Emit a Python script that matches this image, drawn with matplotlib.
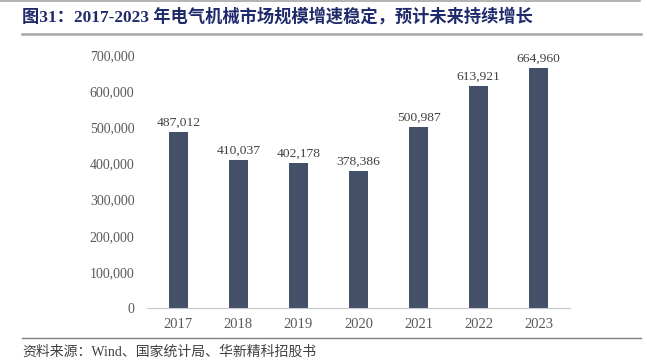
import matplotlib.pyplot as plt
from matplotlib.lines import Line2D

# 2017-2023 电气机械市场规模
years = ['2017', '2018', '2019', '2020', '2021', '2022', '2023']
values = [487012, 410037, 402178, 378386, 500987, 613921, 664960]

serif = ['Liberation Serif', 'Noto Sans CJK SC']

fig = plt.figure(figsize=(6.47, 3.61), dpi=100)
ax = fig.add_axes([147 / 647, 1 - 308 / 361, 423 / 647, 253 / 361])

x = range(len(years))
ax.bar(x, values, width=0.32, color='#435068', zorder=2)
for i, v in zip(x, values):
    ax.text(i, v + 9000, f'{v:,}', ha='center', va='bottom', fontsize=9.7,
            family=serif, color='#404040')

ax.set_ylim(0, 700000)
ax.set_xlim(-0.52, 6.52)
ax.set_yticks(range(0, 700001, 100000))
ax.set_yticklabels([f'{t:,}' for t in range(0, 700001, 100000)], family=serif,
                   fontsize=10, color='#595959')
ax.set_xticks(list(x))
ax.set_xticklabels(years, family=serif, fontsize=10.5, color='#595959')
ax.tick_params(axis='y', length=0, pad=9)
ax.tick_params(axis='x', length=0, pad=7)
for s in ['top', 'right', 'left']:
    ax.spines[s].set_visible(False)
ax.spines['bottom'].set_color('#c8c8c8')
ax.spines['bottom'].set_linewidth(0.8)

# title and decorative lines
fig.text(22 / 647, 1 - 17 / 361, '图31：2017-2023 年电气机械市场规模增速稳定，预计未来持续增长',
         fontsize=12.4, fontweight='bold', color='#1f2a6b', family=serif, va='center')
fig.add_artist(Line2D([0, 640 / 647], [1 - 1 / 361, 1 - 1 / 361], color='#a6a6a6', lw=1.2))
fig.add_artist(Line2D([22 / 647, 641 / 647], [1 - 34 / 361, 1 - 34 / 361], color='#a6a6a6', lw=1.8))
fig.add_artist(Line2D([22 / 647, 641 / 647], [1 - 338 / 361, 1 - 338 / 361], color='#7f7f7f', lw=1.0))
fig.text(22 / 647, 1 - 352 / 361, '资料来源：Wind、国家统计局、华新精科招股书',
         fontsize=10, color='#404040', family=serif, va='center')

fig.savefig('out.png', dpi=100)
